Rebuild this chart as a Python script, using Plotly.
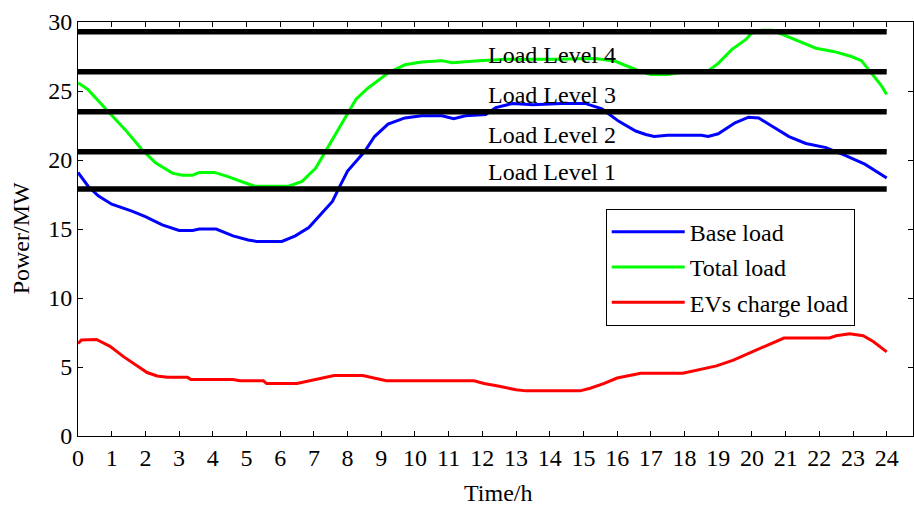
import plotly.graph_objects as go

# ---- data ----
base_t = [0, 0.3, 0.6, 1.0, 1.6, 2.0, 2.5, 3.0, 3.4, 3.6, 4.1, 4.6, 5.05, 5.3, 6.05, 6.45, 6.85,
          7.25, 7.55, 7.75, 8.0, 8.5, 8.8, 9.2, 9.7, 10.2, 10.8, 11.15, 11.5, 12.1, 12.4, 12.9,
          13.5, 14.35, 15.05, 15.55, 16.05, 16.55, 16.85, 17.1, 17.5, 18.5, 18.7, 19.0, 19.5,
          19.9, 20.2, 20.6, 21.1, 21.6, 22.2, 22.8, 23.35, 24.0]
base_p = [19.1, 18.1, 17.4, 16.8, 16.3, 15.9, 15.3, 14.9, 14.9, 15.0, 15.0, 14.5, 14.2, 14.1,
          14.1, 14.5, 15.1, 16.2, 17.0, 18.0, 19.2, 20.6, 21.7, 22.6, 23.05, 23.2, 23.2, 23.0,
          23.2, 23.3, 23.8, 24.1, 24.0, 24.1, 24.1, 23.7, 22.8, 22.1, 21.85, 21.7, 21.8, 21.8,
          21.7, 21.9, 22.7, 23.1, 23.05, 22.45, 21.7, 21.2, 20.9, 20.3, 19.7, 18.7]

total_t = [0, 0.3, 0.9, 1.4, 1.9, 2.3, 2.8, 3.1, 3.4, 3.6, 4.05, 4.45, 4.95, 5.25, 6.25, 6.65,
           7.05, 7.45, 7.85, 8.25, 8.6, 9.2, 9.7, 10.2, 10.8, 11.1, 11.9, 12.7, 14.15, 15.35,
           15.95, 16.4, 16.65, 17.0, 17.5, 18.0, 18.7, 19.0, 19.4, 19.8, 20.0, 20.3, 20.6, 20.9,
           21.4, 21.9, 22.45, 22.95, 23.25, 23.55, 23.85, 24.0]
total_p = [25.6, 25.1, 23.5, 22.2, 20.75, 19.8, 19.05, 18.9, 18.9, 19.1, 19.1, 18.8, 18.35, 18.1,
           18.1, 18.45, 19.4, 21.1, 22.8, 24.4, 25.2, 26.3, 26.9, 27.1, 27.2, 27.05, 27.2, 27.3,
           27.3, 27.35, 27.15, 26.7, 26.45, 26.2, 26.2, 26.4, 26.45, 27.0, 28.0, 28.7, 29.2,
           29.4, 29.4, 29.1, 28.6, 28.1, 27.85, 27.5, 27.2, 26.3, 25.35, 24.75]

ev_t = [0, 0.1, 0.55, 0.95, 1.35, 1.75, 2.05, 2.35, 2.65, 3.25, 3.35, 4.6, 4.8, 5.5, 5.6, 6.5,
        6.9, 7.3, 7.6, 8.45, 8.75, 9.15, 11.75, 12.05, 12.5, 13.0, 13.3, 14.9, 15.2, 15.6, 16.0,
        16.4, 16.7, 17.95, 18.45, 18.95, 19.45, 19.95, 20.45, 20.95, 22.3, 22.5, 22.9, 23.3,
        23.6, 24.0]
ev_p = [6.7, 6.95, 7.0, 6.5, 5.75, 5.1, 4.6, 4.35, 4.25, 4.25, 4.1, 4.1, 4.0, 4.0, 3.8, 3.8,
        4.0, 4.2, 4.38, 4.38, 4.2, 4.0, 4.0, 3.8, 3.6, 3.35, 3.27, 3.27, 3.46, 3.8, 4.2, 4.38,
        4.55, 4.55, 4.8, 5.08, 5.5, 6.05, 6.6, 7.1, 7.1, 7.26, 7.4, 7.26, 6.85, 6.1]

levels = [17.9, 20.6, 23.5, 26.4, 29.3]
level_labels = ["Load Level 1", "Load Level 2", "Load Level 3", "Load Level 4"]
level_span = [0, 24]
label_x = 12.1
label_offset = 1.2

x_ticks = list(range(0, 25))
y_ticks = [0, 5, 10, 15, 20, 25, 30]
x_title = "Time/h"
y_title = "Power/MW"

FONT = "Liberation Serif, Times New Roman, serif"
TXT = dict(family=FONT, size=24, color="black")

fig = go.Figure()

series = [
    ("Base load", base_t, base_p, "#0000FF"),
    ("Total load", total_t, total_p, "#00FF00"),
    ("EVs charge load", ev_t, ev_p, "#FF0000"),
]
for name, t, p, c in series:
    fig.add_trace(go.Scatter(x=t, y=p, mode="lines", name=name, legendgroup=name,
                             line=dict(color=c, width=3)))

for lv in levels:
    fig.add_trace(go.Scatter(x=level_span, y=[lv, lv], mode="lines", showlegend=False,
                             hoverinfo="skip", line=dict(color="black", width=5.5)))

for lv, lab in zip(levels, level_labels):
    fig.add_annotation(x=label_x, y=lv + label_offset, text=lab, showarrow=False,
                       xanchor="left", yanchor="middle", xref="x", yref="y", font=TXT)

# axis titles
fig.add_annotation(x=0.503, y=-0.138, xref="paper", yref="paper", text=x_title,
                   showarrow=False, xanchor="center", yanchor="middle", font=TXT)
fig.add_annotation(x=-0.068, y=0.478, xref="paper", yref="paper", text=y_title,
                   showarrow=False, xanchor="center", yanchor="middle", textangle=-90, font=TXT)

axis_common = dict(showline=True, linecolor="black", linewidth=1, mirror="ticks",
                   ticks="inside", ticklen=5, tickcolor="black", tickwidth=1,
                   showgrid=False, zeroline=False, automargin=False, tickfont=TXT)

fig.update_xaxes(range=[0, 24.78], tickmode="array", tickvals=x_ticks, **axis_common)
fig.update_yaxes(range=[0, 30], tickmode="array", tickvals=y_ticks, **axis_common)

fig.update_layout(
    width=914, height=505,
    margin=dict(l=78, r=1, t=22, b=69),
    paper_bgcolor="white", plot_bgcolor="white",
    font=TXT,
    showlegend=True,
    legend=dict(x=0.632, y=0.549, xanchor="left", yanchor="top",
                bgcolor="white", bordercolor="black", borderwidth=1, font=TXT,
                tracegroupgap=1, itemwidth=73, traceorder="grouped"),
)

fig.write_html("out.html", config={"displayModeBar": False},
               post_script="document.body.style.margin='0';document.body.style.overflow='hidden';")
